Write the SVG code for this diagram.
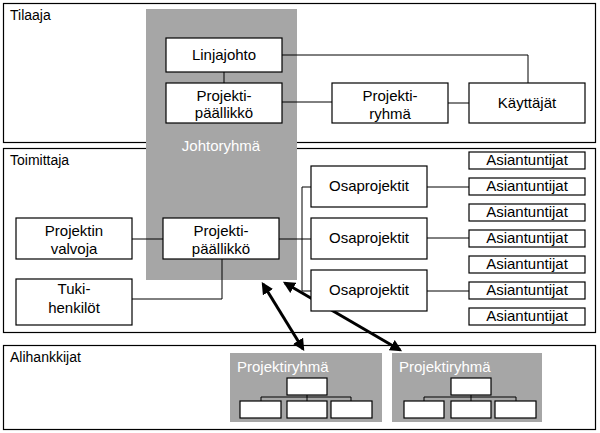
<svg xmlns="http://www.w3.org/2000/svg" width="600" height="433" viewBox="0 0 600 433">
<style>
.sec{fill:#fff;stroke:#000;stroke-width:1.2}
.gray{fill:#a6a6a6;stroke:none}
.box{fill:#fff;stroke:#000;stroke-width:1.2}
.ln{fill:none;stroke:#000;stroke-width:1}
.arr{fill:none;stroke:#000;stroke-width:3}
text{font-family:"Liberation Sans",Arial,sans-serif;font-size:15px;fill:#000}
.c{text-anchor:middle}
.lbl{font-size:14px}
.w{fill:#fff}
</style>
<defs>
<marker id="ah" viewBox="0 0 10 10" refX="8" refY="5" markerWidth="4" markerHeight="4" orient="auto-start-reverse" markerUnits="strokeWidth">
<path d="M0,0 L10,5 L0,10 z" fill="#000"/>
</marker>
</defs>
<g id="sections">
<g id="tilaaja"><rect class="sec" x="3.5" y="3.5" width="592" height="139"/><text class="lbl" x="10" y="20">Tilaaja</text></g>
<g id="toimittaja"><rect class="sec" x="3.5" y="148.5" width="592" height="184"/><text class="lbl" x="10" y="165">Toimittaja</text></g>
<g id="alihankkijat"><rect class="sec" x="3.5" y="345.5" width="592" height="84"/><text class="lbl" x="10" y="362">Alihankkijat</text></g>
</g>
<g id="johtoryhma"><rect class="gray" x="146" y="9" width="151" height="271"/><text class="c w" x="221" y="151">Johtoryhmä</text></g>
<g id="connectors">
<path class="ln" d="M224,72 V83"/>
<path class="ln" d="M282,55 H528 V83"/>
<path class="ln" d="M282,102 H332"/>
<path class="ln" d="M448,103 H469"/>
<path class="ln" d="M132,239 H163"/>
<path class="ln" d="M132,299 H222 V259"/>
<path class="ln" d="M279,239 H311"/>
<path class="ln" d="M311,187 H302 V291 H311"/>
<path class="ln" d="M427,187 H469"/>
<path class="ln" d="M427,238 H469"/>
<path class="ln" d="M427,291 H469"/>
<path class="arr" d="M263,284 L303,349" marker-start="url(#ah)" marker-end="url(#ah)"/>
<path class="arr" d="M285,283 L400,350" marker-start="url(#ah)" marker-end="url(#ah)"/>
</g>
<g id="linjajohto"><rect class="box" x="166" y="38" width="116" height="34"/><text class="c" x="224" y="60">Linjajohto</text></g>
<g id="projektipaallikko1"><rect class="box" x="166" y="83" width="116" height="40"/><text class="c" x="224" y="101">Projekti-</text><text class="c" x="224" y="118">päällikkö</text></g>
<g id="projektiryhma"><rect class="box" x="332" y="83" width="116" height="40"/><text class="c" x="390" y="101">Projekti-</text><text class="c" x="390" y="119">ryhmä</text></g>
<g id="kayttajat"><rect class="box" x="469" y="83" width="116" height="40"/><text class="c" x="527" y="108">Käyttäjät</text></g>
<g id="projektin-valvoja"><rect class="box" x="16" y="218" width="116" height="41"/><text class="c" x="74" y="236">Projektin</text><text class="c" x="74" y="254">valvoja</text></g>
<g id="projektipaallikko2"><rect class="box" x="163" y="218" width="116" height="41"/><text class="c" x="221" y="236">Projekti-</text><text class="c" x="221" y="254">päällikkö</text></g>
<g id="tukihenkilot"><rect class="box" x="16" y="279" width="116" height="46"/><text class="c" x="74" y="294">Tuki-</text><text class="c" x="74" y="313">henkilöt</text></g>
<g id="osaprojektit1"><rect class="box" x="311" y="166" width="116" height="41"/><text class="c" x="369" y="191">Osaprojektit</text></g>
<g id="osaprojektit2"><rect class="box" x="311" y="218" width="116" height="41"/><text class="c" x="369" y="243">Osaprojektit</text></g>
<g id="osaprojektit3"><rect class="box" x="311" y="270" width="116" height="41"/><text class="c" x="369" y="295">Osaprojektit</text></g>
<g id="asiantuntijat1"><rect class="box" x="469" y="152" width="116" height="17"/><text class="c" x="527" y="165">Asiantuntijat</text></g>
<g id="asiantuntijat2"><rect class="box" x="469" y="178" width="116" height="17"/><text class="c" x="527" y="191">Asiantuntijat</text></g>
<g id="asiantuntijat3"><rect class="box" x="469" y="204" width="116" height="17"/><text class="c" x="527" y="217">Asiantuntijat</text></g>
<g id="asiantuntijat4"><rect class="box" x="469" y="230" width="116" height="17"/><text class="c" x="527" y="243">Asiantuntijat</text></g>
<g id="asiantuntijat5"><rect class="box" x="469" y="256" width="116" height="17"/><text class="c" x="527" y="269">Asiantuntijat</text></g>
<g id="asiantuntijat6"><rect class="box" x="469" y="282" width="116" height="17"/><text class="c" x="527" y="295">Asiantuntijat</text></g>
<g id="asiantuntijat7"><rect class="box" x="469" y="308" width="116" height="17"/><text class="c" x="527" y="321">Asiantuntijat</text></g>
<g id="alihankkija-ryhma1">
<rect class="gray" x="230" y="353" width="152" height="69"/>
<text class="w" x="237" y="372">Projektiryhmä</text>
<path class="ln" d="M307,395 V397 M261,401 V397 H351 V401 M307,397 V401"/>
<rect class="box" x="287" y="378" width="40" height="17"/>
<rect class="box" x="240" y="401" width="41" height="17"/>
<rect class="box" x="287" y="401" width="40" height="17"/>
<rect class="box" x="331" y="401" width="41" height="17"/>
</g>
<g id="alihankkija-ryhma2">
<rect class="gray" x="392" y="353" width="150" height="69"/>
<text class="w" x="399" y="372">Projektiryhmä</text>
<path class="ln" d="M471,395 V397 M424,401 V397 H516 V401 M471,397 V401"/>
<rect class="box" x="451" y="378" width="40" height="17"/>
<rect class="box" x="404" y="401" width="40" height="17"/>
<rect class="box" x="451" y="401" width="40" height="17"/>
<rect class="box" x="495" y="401" width="41" height="17"/>
</g>
</svg>
